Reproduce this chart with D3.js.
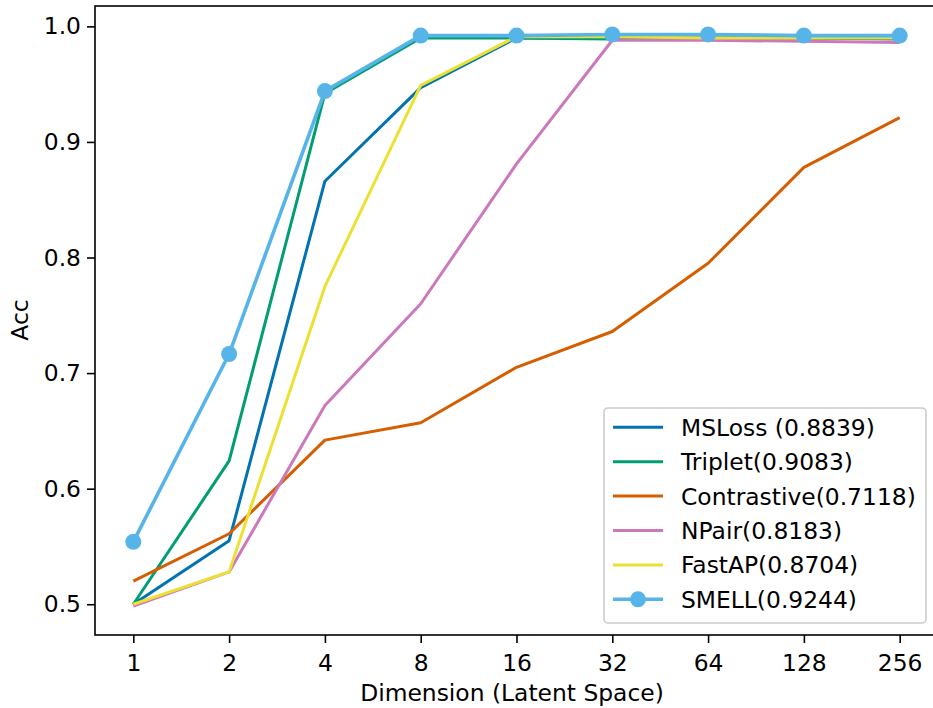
<!DOCTYPE html>
<html><head><meta charset="utf-8">
<script src="https://cdn.jsdelivr.net/npm/d3@7"></script>
<style>body{margin:0;background:#fff}svg{display:block}text{font-family:"DejaVu Sans",sans-serif;fill:#000}</style>
</head><body><svg id="c" width="933" height="708"></svg>
<script>
const categories = ["1","2","4","8","16","32","64","128","256"];
const msloss      = [0.500,0.555,0.866,0.947,0.990,0.990,0.990,0.990,0.989];
const triplet     = [0.500,0.624,0.942,0.990,0.990,0.989,0.990,0.990,0.990];
const contrastive = [0.520,0.561,0.642,0.657,0.705,0.736,0.795,0.878,0.921];
const npair       = [0.4985,0.528,0.672,0.760,0.881,0.988,0.988,0.987,0.986];
const fastap      = [0.500,0.528,0.775,0.949,0.991,0.991,0.990,0.990,0.990];
const smell       = [0.554,0.7165,0.944,0.992,0.992,0.993,0.993,0.992,0.992];
const seriesNames = ["MSLoss (0.8839)","Triplet(0.9083)","Contrastive(0.7118)","NPair(0.8183)","FastAP(0.8704)","SMELL(0.9244)"];
const yTicks = [0.5,0.6,0.7,0.8,0.9,1.0];

const colors = ["#0173b2","#029e73","#d55e00","#cc78bc","#ece133","#56b4e9"];
const data = [msloss,triplet,contrastive,npair,fastap,smell];

const svg = d3.select("#c");
const L=95,R=938,T=6,B=635;
const x = d3.scalePoint().domain(categories).range([L,R]).padding(0.4);
const y = d3.scaleLinear().domain([0.4734,1.0176]).range([B,T]);
const FS = 23.4;

// lines
const line = d3.line().x((d,i)=>x(categories[i])).y(d=>y(d));
data.forEach((s,k)=>{
  svg.append("path").datum(s).attr("d",line).attr("fill","none")
    .attr("stroke",colors[k]).attr("stroke-width",k===5?3.6:3).attr("stroke-linejoin","round");
});
svg.append("g").selectAll("circle").data(smell).join("circle")
  .attr("cx",(d,i)=>x(categories[i])).attr("cy",d=>y(d)).attr("r",8).attr("fill",colors[5]);

// frame
svg.append("rect").attr("x",L).attr("y",T).attr("width",R-L).attr("height",B-T)
  .attr("fill","none").attr("stroke","#000").attr("stroke-width",1.6);

// axes
const xa = svg.append("g").attr("transform",`translate(0,${B})`)
  .call(d3.axisBottom(x).tickSize(8).tickPadding(6));
const ya = svg.append("g").attr("transform",`translate(${L},0)`)
  .call(d3.axisLeft(y).tickValues(yTicks).tickFormat(d3.format(".1f")).tickSize(8).tickPadding(6));
[xa,ya].forEach(a=>{
  a.select(".domain").remove();
  a.selectAll(".tick line").attr("stroke","#000").attr("stroke-width",1.6);
  a.selectAll(".tick text").attr("font-size",FS).attr("font-family","DejaVu Sans");
});
xa.selectAll(".tick text").attr("dy","0.95em");

svg.append("text").attr("x",(L+R)/2 - 4.5).attr("y",701).attr("text-anchor","middle")
  .attr("font-size",FS).text("Dimension (Latent Space)");
svg.append("text").attr("transform","translate(28,320) rotate(-90)").attr("text-anchor","middle")
  .attr("font-size",FS).text("Acc");

// legend
const lg = svg.append("g");
lg.append("rect").attr("x",604).attr("y",408).attr("width",322).attr("height",215).attr("rx",4)
  .attr("fill","rgba(255,255,255,0.8)").attr("stroke","#cccccc").attr("stroke-width",1.6);
seriesNames.forEach((n,k)=>{
  const cy = 427.3 + k*34.4;
  lg.append("line").attr("x1",613).attr("x2",663).attr("y1",cy).attr("y2",cy)
    .attr("stroke",colors[k]).attr("stroke-width",k===5?3.6:3);
  if(k===5) lg.append("circle").attr("cx",638).attr("cy",cy).attr("r",8).attr("fill",colors[5]);
  lg.append("text").attr("x",681).attr("y",cy).attr("dy","0.36em").attr("font-size",FS).text(n);
});
</script></body></html>
